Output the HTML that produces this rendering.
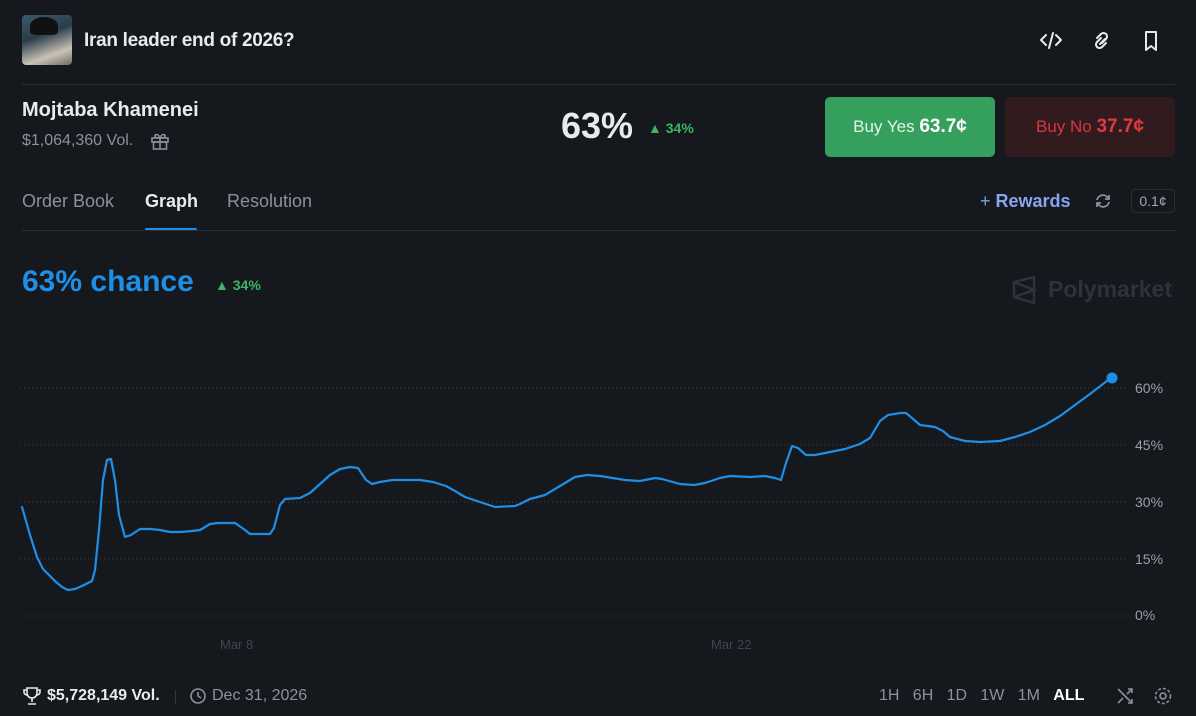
<!DOCTYPE html>
<html><head><meta charset="utf-8"><style>
*{margin:0;padding:0;box-sizing:border-box}
body{width:1196px;height:716px;background:#15181d;font-family:"Liberation Sans",sans-serif;color:#e8eaed;position:relative;overflow:hidden}
.a{position:absolute;white-space:nowrap}
</style></head><body>
<div class="a" style="left:22px;top:15px;width:50px;height:50px;border-radius:4px;background:linear-gradient(160deg,#3b5a6e 0%,#2a3d4a 40%,#c9c2b5 75%,#6d6a66 100%)"></div>
<div class="a" style="left:30px;top:17px;width:28px;height:18px;border-radius:50% 50% 20% 20%;background:#111"></div>
<div class="a" style="left:84px;top:30px;font-size:19px;font-weight:bold;letter-spacing:-0.3px">Iran leader end of 2026?</div>
<svg class="a" style="left:1040px;top:30px" width="130" height="22" fill="none" stroke="#e8eaed" stroke-width="2" stroke-linecap="round" stroke-linejoin="round">
<path d="M6 5 L1 10 L6 15 M16 5 L21 10 L16 15 M13 3 L9 18"/>
<path d="M57 8 l4-4 a3 3 0 0 1 5 5 l-4 4 M66 13 l-4 4 a3 3 0 0 1-5-5 l4-4 M60 14 l5-5"/>
<path d="M106 2 h10 v18 l-5-4 -5 4z"/>
</svg>
<div class="a" style="left:22px;top:84px;width:1153px;height:1px;background:#2a2f37"></div>
<div class="a" style="left:22px;top:99px;font-size:20px;font-weight:bold">Mojtaba Khamenei</div>
<div class="a" style="left:22px;top:132px;font-size:16px;color:#8a929c">$1,064,360 Vol.</div>
<svg class="a" style="left:150px;top:131px" width="20" height="20" fill="none" stroke="#8a929c" stroke-width="1.6"><rect x="2" y="7" width="16" height="4"/><rect x="3.5" y="11" width="13" height="7"/><path d="M10 7v11M10 7c-2-5-6-4-5-1 1 1 5 1 5 1M10 7c2-5 6-4 5-1-1 1-5 1-5 1"/></svg>
<div class="a" style="left:561px;top:105px;font-size:36px;font-weight:bold;color:#e8eaed">63%</div>
<div class="a" style="left:648px;top:120px;font-size:14px;color:#3db468;font-weight:bold">▲ 34%</div>
<div class="a" style="left:825px;top:97px;width:170px;height:60px;border-radius:5px;background:#35a05e;text-align:center;line-height:60px;font-size:17px;color:#dff5e6">Buy Yes <b style="font-size:19px;color:#fff">63.7¢</b></div>
<div class="a" style="left:1005px;top:97px;width:170px;height:60px;border-radius:5px;background:#321b1f;text-align:center;line-height:60px;font-size:17px;color:#d8373e">Buy No <b style="font-size:19px;color:#e03b3e">37.7¢</b></div>
<div class="a" style="left:22px;top:191px;font-size:18px;color:#8a929c">Order Book</div>
<div class="a" style="left:145px;top:191px;font-size:18px;font-weight:bold">Graph</div>
<div class="a" style="left:227px;top:191px;font-size:18px;color:#8a929c">Resolution</div>
<div class="a" style="left:145px;top:228px;width:52px;height:3px;background:#1f8fe6;border-radius:2px"></div>
<div class="a" style="left:22px;top:230px;width:1153px;height:1px;background:#2a2f37"></div>
<div class="a" style="left:980px;top:191px;font-size:18px;font-weight:bold;color:#8aa3ee"><span style="color:#6ea5f0;font-weight:normal">+</span> Rewards</div>
<svg class="a" style="left:1094px;top:192px" width="18" height="18" fill="none" stroke="#8a929c" stroke-width="1.8"><path d="M3 8a6 6 0 0 1 11-2l1 1M15 10a6 6 0 0 1-11 2l-1-1M15 3v4h-4M3 15v-4h4"/></svg>
<div class="a" style="left:1131px;top:189px;width:44px;height:24px;border:1px solid #2a2f37;border-radius:4px;font-size:14px;color:#a0a7b0;text-align:center;line-height:22px">0.1¢</div>
<div class="a" style="left:22px;top:265px;font-size:30px;font-weight:bold;color:#1f8fe6">63% chance</div>
<div class="a" style="left:215px;top:277px;font-size:14px;color:#3db468;font-weight:bold">▲ 34%</div>
<svg class="a" style="left:1012px;top:276px" width="26" height="28" fill="none" stroke="#2c333d" stroke-width="2.5"><path d="M2 6 L22 1 V27 L2 21 Z M2 6 L22 14 L2 21"/></svg>
<div class="a" style="left:1048px;top:276px;font-size:23px;font-weight:bold;color:#2c333d">Polymarket</div>
<svg class="a" style="left:0;top:0" width="1196" height="716">
<g stroke="#3a4049" stroke-width="1" stroke-dasharray="1 3">
<line x1="20" y1="388" x2="1126" y2="388"/><line x1="20" y1="445" x2="1126" y2="445"/><line x1="20" y1="502" x2="1126" y2="502"/><line x1="20" y1="559" x2="1126" y2="559"/><line x1="20" y1="616" x2="1126" y2="616"/>
</g>
<g font-family="Liberation Sans,sans-serif" font-size="14" fill="#9aa1aa">
<text x="1135" y="393">60%</text><text x="1135" y="450">45%</text><text x="1135" y="507">30%</text><text x="1135" y="564">15%</text><text x="1135" y="620">0%</text>
</g>
<g font-family="Liberation Sans,sans-serif" font-size="13" fill="#3e4650"><text x="220" y="649">Mar 8</text><text x="711" y="649">Mar 22</text></g>
<polyline fill="none" stroke="#1f8fe6" stroke-width="2.2" stroke-linejoin="round" stroke-linecap="round" points="22,507 30,535 37,557 43,569 50,576 56,582 62,587 68,590 75,589 82,586 92,581 95,570 99,530 103,480 107,460 111,459 115,480 119,515 125,537 131,535 140,529 150,529 160,530 170,532 180,532 192,531 200,530 210,524 218,523 235,523 245,530 250,534 270,534 274,528 280,505 285,499 300,498 310,493 320,484 330,475 340,469 350,467 358,468 366,480 372,484 380,482 392,480 420,480 433,482 446,486 455,491 465,497 480,502 495,507 515,506 520,504 530,499 545,495 560,486 575,477 587,475 600,476 625,480 640,481 655,478 662,479 680,484 694,485 705,483 720,478 730,476 750,477 765,476 775,478 781,480 786,463 792,446 798,448 806,455 815,455 830,452 845,449 860,444 870,438 880,421 888,415 900,413 906,413 912,418 920,425 935,427 943,431 950,437 965,441 980,442 1000,441 1015,437 1030,432 1045,425 1060,416 1075,405 1090,394 1112,377"/>
<circle cx="1112" cy="378" r="5.5" fill="#1f8fe6"/>
</svg>
<svg class="a" style="left:22px;top:686px" width="20" height="20" fill="none" stroke="#e8eaed" stroke-width="1.6"><path d="M5 2h10v5a5 5 0 0 1-10 0zM5 4H2v2a3 3 0 0 0 3 3M15 4h3v2a3 3 0 0 1-3 3M10 12v4M6 18h8"/></svg>
<div class="a" style="left:47px;top:687px;font-size:16px;font-weight:bold">$5,728,149 Vol.</div>
<div class="a" style="left:175px;top:690px;width:1px;height:14px;background:#2f353d"></div>
<svg class="a" style="left:189px;top:687px" width="18" height="18" fill="none" stroke="#8a929c" stroke-width="1.6"><circle cx="9" cy="9" r="7"/><path d="M9 5v4l3 2"/></svg>
<div class="a" style="left:212px;top:687px;font-size:16px;color:#8a929c">Dec 31, 2026</div>
<div class="a" style="left:879px;top:687px;font-size:16px;color:#8a929c;word-spacing:0">1H&nbsp;&nbsp;&nbsp;6H&nbsp;&nbsp;&nbsp;1D&nbsp;&nbsp;&nbsp;1W&nbsp;&nbsp;&nbsp;1M&nbsp;&nbsp;&nbsp;<b style="color:#fff">ALL</b></div>
<svg class="a" style="left:1116px;top:686px" width="60" height="20" fill="none" stroke="#8a929c" stroke-width="1.6"><path d="M2 3l14 14M2 17l5-5M11 8l5-5M12 3h4v4M12 17h4v-4"/><circle cx="47" cy="10" r="3"/><circle cx="47" cy="10" r="7.5" stroke-dasharray="3 2"/></svg>
</body></html>
